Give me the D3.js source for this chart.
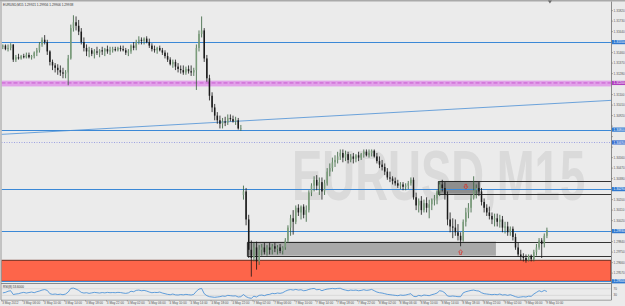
<!DOCTYPE html>
<html><head><meta charset="utf-8">
<script src="https://cdn.jsdelivr.net/npm/d3@7"></script>
<style>html,body{margin:0;padding:0;background:#ebebeb;overflow:hidden}svg{display:block}</style>
</head><body>
<script>
// ---------------- DATA ----------------
const symbol = "EURUSD,M15";
const quote = ["1.29921", "1.29956", "1.29906", "1.29938"];
const sessionStarts = ["2012-05-03T02:00", "2012-05-07T00:00"];
const sessionCounts = [92, 117];

const opens = [
1.3151,1.3152,1.3149,1.3150,1.3153,1.3140,1.3142,1.3141,1.3143,1.3142,
1.3144,1.3142,1.3143,1.3146,1.3148,1.3153,1.3157,1.3155,1.3147,1.3138,
1.3135,1.3133,1.3131,1.3129,1.3128,1.3129,1.3141,1.3167,1.3172,1.3169,
1.3164,1.3155,1.3150,1.3147,1.3148,1.3145,1.3147,1.3146,1.3148,1.3147,
1.3149,1.3147,1.3148,1.3149,1.3148,1.3150,1.3149,1.3148,1.3146,1.3147,
1.3152,1.3150,1.3155,1.3157,1.3156,1.3158,1.3155,1.3152,1.3149,1.3148,
1.3150,1.3148,1.3146,1.3143,1.3140,1.3136,1.3138,1.3134,1.3132,1.3131,
1.3129,1.3132,1.3130,1.3129,1.3131,1.3150,1.3162,1.3165,1.3141,1.3124,
1.3109,1.3099,1.3092,1.3088,1.3085,1.3087,1.3086,1.3090,1.3089,1.3087,
1.3088,1.3081,
1.3024,1.3027,1.3003,1.2977,1.2970,1.2979,1.2967,1.2977,1.2979,1.2975,
1.2979,1.2977,1.2980,1.2978,1.2979,1.2976,1.2979,1.2985,1.2996,1.3004,
1.3001,1.3013,1.3009,1.3014,1.3007,1.3011,1.3026,1.3032,1.3037,1.3032,
1.3035,1.3027,1.3034,1.3044,1.3047,1.3052,1.3054,1.3057,1.3060,1.3056,
1.3059,1.3054,1.3057,1.3055,1.3058,1.3056,1.3059,1.3061,1.3058,1.3060,
1.3062,1.3057,1.3053,1.3050,1.3048,1.3044,1.3039,1.3038,1.3036,1.3034,
1.3032,1.3033,1.3031,1.3032,1.3034,1.3037,1.3022,1.3015,1.3019,1.3011,
1.3017,1.3013,1.3016,1.3020,1.3021,1.3027,1.3033,1.3030,1.3024,1.3003,
1.2997,1.2996,1.2992,1.2989,1.2985,1.3001,1.3009,1.3013,1.3021,1.3028,
1.3030,1.3027,1.3018,1.3013,1.3009,1.3006,1.3003,1.3004,1.3001,1.3003,
1.2996,1.2997,1.2992,1.2995,1.2988,1.2979,1.2973,1.2971,1.2970,1.2968,
1.2972,1.2969,1.2975,1.2979,1.2985,1.2982,1.2989];

const highs = [
1.3153,1.3153,1.3153,1.3154,1.3153,1.3144,1.3145,1.3144,1.3145,1.3146,
1.3146,1.3144,1.3147,1.3150,1.3155,1.3159,1.3161,1.3157,1.3148,1.3140,
1.3137,1.3136,1.3135,1.3133,1.3131,1.3144,1.3170,1.3178,1.3177,1.3174,
1.3167,1.3159,1.3153,1.3151,1.3150,1.3149,1.3151,1.3149,1.3151,1.3150,
1.3152,1.3151,1.3151,1.3151,1.3151,1.3152,1.3152,1.3150,1.3149,1.3153,
1.3155,1.3157,1.3160,1.3159,1.3159,1.3160,1.3158,1.3154,1.3152,1.3151,
1.3152,1.3150,1.3148,1.3146,1.3142,1.3140,1.3140,1.3137,1.3135,1.3135,
1.3134,1.3135,1.3135,1.3133,1.3153,1.3165,1.3177,1.3167,1.3144,1.3127,
1.3112,1.3102,1.3095,1.3092,1.3090,1.3091,1.3093,1.3093,1.3092,1.3091,
1.3090,1.3084,
1.3032,1.3030,1.3007,1.2985,1.2983,1.2984,1.2981,1.2982,1.2983,1.2981,
1.2983,1.2982,1.2983,1.2981,1.2982,1.2980,1.2987,1.2998,1.3007,1.3011,
1.3015,1.3016,1.3015,1.3016,1.3015,1.3028,1.3034,1.3040,1.3041,1.3039,
1.3039,1.3037,1.3047,1.3051,1.3056,1.3058,1.3061,1.3063,1.3063,1.3062,
1.3061,1.3059,1.3060,1.3059,1.3061,1.3060,1.3063,1.3063,1.3063,1.3063,
1.3063,1.3060,1.3057,1.3054,1.3051,1.3047,1.3044,1.3040,1.3039,1.3037,
1.3035,1.3035,1.3034,1.3036,1.3039,1.3039,1.3026,1.3021,1.3023,1.3020,
1.3022,1.3020,1.3021,1.3024,1.3028,1.3036,1.3037,1.3035,1.3027,1.3009,
1.3004,1.3003,1.2999,1.2992,1.3003,1.3013,1.3017,1.3024,1.3040,1.3033,
1.3035,1.3030,1.3021,1.3016,1.3014,1.3009,1.3008,1.3008,1.3007,1.3006,
1.3001,1.3001,1.2997,1.2997,1.2991,1.2983,1.2977,1.2974,1.2973,1.2973,
1.2973,1.2977,1.2982,1.2987,1.2987,1.2991,1.2996];

const lows = [
1.3149,1.3148,1.3147,1.3148,1.3138,1.3138,1.3140,1.3140,1.3141,1.3141,
1.3141,1.3140,1.3141,1.3143,1.3146,1.3151,1.3153,1.3144,1.3135,1.3131,
1.3129,1.3127,1.3126,1.3124,1.3124,1.3118,1.3140,1.3164,1.3165,1.3161,
1.3153,1.3147,1.3143,1.3142,1.3143,1.3141,1.3144,1.3142,1.3144,1.3143,
1.3145,1.3144,1.3146,1.3147,1.3147,1.3147,1.3147,1.3144,1.3143,1.3145,
1.3148,1.3148,1.3153,1.3153,1.3153,1.3154,1.3150,1.3147,1.3146,1.3145,
1.3147,1.3144,1.3141,1.3138,1.3135,1.3133,1.3131,1.3129,1.3128,1.3127,
1.3127,1.3128,1.3126,1.3126,1.3114,1.3147,1.3159,1.3138,1.3121,1.3105,
1.3095,1.3088,1.3085,1.3081,1.3081,1.3083,1.3084,1.3087,1.3086,1.3084,
1.3080,1.3079,
1.3020,1.2998,1.2970,1.2954,1.2967,1.2960,1.2964,1.2972,1.2973,1.2972,
1.2973,1.2973,1.2975,1.2973,1.2974,1.2973,1.2977,1.2983,1.2989,1.2990,
1.2999,1.3006,1.3003,1.3004,1.3001,1.3009,1.3023,1.3027,1.3028,1.3024,
1.3020,1.3024,1.3032,1.3040,1.3044,1.3048,1.3051,1.3054,1.3052,1.3053,
1.3051,1.3052,1.3051,1.3052,1.3053,1.3054,1.3056,1.3057,1.3056,1.3057,
1.3056,1.3051,1.3047,1.3045,1.3041,1.3037,1.3035,1.3033,1.3032,1.3030,
1.3029,1.3028,1.3028,1.3029,1.3032,1.3020,1.3011,1.3009,1.3007,1.3009,
1.3009,1.3004,1.3011,1.3015,1.3016,1.3023,1.3027,1.3020,1.2998,1.2992,
1.2987,1.2989,1.2985,1.2980,1.2984,1.2997,1.3004,1.3009,1.3020,1.3021,
1.3023,1.3015,1.3009,1.3006,1.3003,1.2999,1.2997,1.2997,1.2996,1.2992,
1.2991,1.2989,1.2989,1.2985,1.2977,1.2971,1.2968,1.2967,1.2966,1.2967,
1.2967,1.2967,1.2972,1.2977,1.2970,1.2979,1.2987];

const closes = [
1.3152,1.3149,1.3150,1.3153,1.3140,1.3142,1.3141,1.3143,1.3142,1.3144,
1.3142,1.3143,1.3146,1.3148,1.3153,1.3157,1.3155,1.3147,1.3138,1.3135,
1.3133,1.3131,1.3129,1.3128,1.3129,1.3141,1.3167,1.3172,1.3169,1.3164,
1.3155,1.3150,1.3147,1.3148,1.3145,1.3147,1.3146,1.3148,1.3147,1.3149,
1.3147,1.3148,1.3149,1.3148,1.3150,1.3149,1.3148,1.3146,1.3147,1.3152,
1.3150,1.3155,1.3157,1.3156,1.3158,1.3155,1.3152,1.3149,1.3148,1.3150,
1.3148,1.3146,1.3143,1.3140,1.3136,1.3138,1.3134,1.3132,1.3131,1.3129,
1.3132,1.3130,1.3129,1.3131,1.3150,1.3162,1.3165,1.3141,1.3124,1.3109,
1.3099,1.3092,1.3088,1.3085,1.3087,1.3086,1.3090,1.3089,1.3087,1.3088,
1.3081,1.3081,
1.3027,1.3003,1.2977,1.2970,1.2979,1.2967,1.2977,1.2979,1.2975,1.2979,
1.2977,1.2980,1.2978,1.2979,1.2976,1.2979,1.2985,1.2996,1.3004,1.3001,
1.3013,1.3009,1.3014,1.3007,1.3011,1.3026,1.3032,1.3037,1.3032,1.3035,
1.3027,1.3034,1.3044,1.3047,1.3052,1.3054,1.3057,1.3060,1.3056,1.3059,
1.3054,1.3057,1.3055,1.3058,1.3056,1.3059,1.3061,1.3058,1.3060,1.3062,
1.3057,1.3053,1.3050,1.3048,1.3044,1.3039,1.3038,1.3036,1.3034,1.3032,
1.3033,1.3031,1.3032,1.3034,1.3037,1.3022,1.3015,1.3019,1.3011,1.3017,
1.3013,1.3016,1.3020,1.3021,1.3027,1.3033,1.3030,1.3024,1.3003,1.2997,
1.2996,1.2992,1.2989,1.2985,1.3001,1.3009,1.3013,1.3021,1.3028,1.3030,
1.3027,1.3018,1.3013,1.3009,1.3006,1.3003,1.3004,1.3001,1.3003,1.2996,
1.2997,1.2992,1.2995,1.2988,1.2979,1.2973,1.2971,1.2970,1.2968,1.2972,
1.2969,1.2975,1.2979,1.2985,1.2982,1.2989,1.2994];

const rsi = [
45,48,55,58, 35,38,40, 45,48,44,47,50,46, 52,56,62,65,60, 40,36,38,35,37,34,38,
50,72,74,68,60, 48,44,46,42,45,48,46,44,47,45,48,46, 47,46,48,47,44,42,45,
55,52,60,62,58,60,56,50, 46,48,47,50,44,40, 36,34,38,33,32,35,33,36,34,32,36,
55,68,72, 40,28,22,20,18,20, 22,26,24,30,28,26,27,20,22,
35,22,15,12, 25,20,30,32,28,34, 36,42,40,44,42,46, 55,62,65,62,66, 62,64,58,60,
66,70,72,64,66,58,64, 68,70,72,70,72,73,66, 62,58,62,60,62,58,60,64,60,62,66,58,
50,46,44,40, 36,34,32,30,28,32,30,32,36,40, 24,22,30,26,32,30,28,34,38,44,
58,55,45, 26,24,26,24,22,22, 45,52,56,60,62, 58,56,46,40,38,36,
34,36,34,38,32,34,30,34,28, 22,18,20,22,20,25,24, 38,48,58,52,60,53.6];
const rsiName = "RSI(8)";
const rsiLevels = [70, 30];

const priceTicks = [1.3182,1.3173,1.3164,1.3155,1.3146,1.3137,1.3128,1.3119,1.3110,1.3101,
  1.3092,1.3083,1.3074,1.3065,1.3056,1.3047,1.3038,1.3029,1.3020,1.3011,1.3002,1.2993,
  1.2984,1.2975,1.2966,1.2957];

const blueLevels = [1.3155, 1.3080, 1.3029, 1.2993, 1.2950];
const dottedLevels = [1.3069];
const magentaLevels = [1.3120];
const magentaBand = [1.3117, 1.3122];
const boxFrom = [166.5, 93.5];
const boxTo = [182.5, 188.5];
const boxTop = [1.3036, 1.2984];
const boxBottom = [1.3025, 1.2972];
const zoneTop = [1.2968];
const zoneBottom = [1.2950];
const trendIdx = [0, 208];
const trendPrice = [1.3076, 1.3102];
const arrowIdx = [177, 175];
const arrowPrice = [1.3031, 1.2975];
const arrowDir = [1, -1];   // 1 = pointing down, -1 = pointing up

// ---------------- DRAWING ----------------
const W = 625, H = 306;
const plotL = 1.5, plotR = 611, mainT = 2.5, mainB = 283;
const rsiT = 284, rsiB = 300;
const svg = d3.select("body").append("svg").attr("width", W).attr("height", H)
  .style("font-family", "'Liberation Sans', Arial, sans-serif");

svg.append("rect").attr("width", W).attr("height", H).attr("fill", "#ebebeb");
svg.append("rect").attr("x", 0).attr("y", 0).attr("width", W).attr("height", 1.5).attr("fill", "#a9a9a9");

const defs = svg.append("defs");
defs.append("clipPath").attr("id", "cm").append("rect")
  .attr("x", plotL).attr("y", mainT).attr("width", plotR - plotL).attr("height", mainB - mainT);
defs.append("clipPath").attr("id", "cr").append("rect")
  .attr("x", plotL).attr("y", rsiT).attr("width", plotR - plotL).attr("height", rsiB - rsiT);

const x = d3.scaleLinear().domain([-0.5, 232.5]).range([plotL, plotR]);
const y = d3.scaleLinear().domain([1.29494, 1.31868]).range([282, 5]);
const ry = d3.scaleLinear().domain([0, 100]).range([300.3, 283.8]);
const f5 = d3.format(".5f");

// watermark (horizontally condensed)
svg.append("text").attr("transform", "translate(292,200) scale(0.65,1)").text(symbol)
  .attr("font-size", 70).attr("font-weight", "bold").attr("fill", "#dadada");

const main = svg.append("g").attr("clip-path", "url(#cm)");

// magenta band + dashed level
main.append("rect").attr("x", plotL).attr("width", plotR - plotL)
  .attr("y", y(magentaBand[1])).attr("height", y(magentaBand[0]) - y(magentaBand[1]))
  .attr("fill", "#e2a2ea");
main.selectAll("line.mag").data(magentaLevels).join("line")
  .attr("x1", plotL).attr("x2", plotR).attr("y1", d => y(d)).attr("y2", d => y(d))
  .attr("stroke", "#c048c8").attr("stroke-width", 0.8).attr("stroke-dasharray", "4,2");

// boxes (fill part)
const boxes = boxFrom.map((f, i) => ({f, t: boxTo[i], top: boxTop[i], bot: boxBottom[i], i}));
const boxFill = ["#8e8e8e", "#a9a9a9"];
main.selectAll("rect.box").data(boxes).join("rect")
  .attr("x", d => x(d.f)).attr("width", d => x(d.t) - x(d.f))
  .attr("y", d => y(d.top)).attr("height", d => y(d.bot) - y(d.top))
  .attr("fill", d => boxFill[d.i]);

// red zone
main.selectAll("rect.zone").data(zoneTop).join("rect")
  .attr("x", plotL).attr("width", plotR - plotL)
  .attr("y", d => y(d)).attr("height", (d, i) => y(zoneBottom[i]) - y(d))
  .attr("fill", "#fd654a").attr("stroke", "#6e2a1c").attr("stroke-width", 1);

// blue levels
main.selectAll("line.blue").data(blueLevels).join("line")
  .attr("x1", plotL).attr("x2", plotR).attr("y1", d => Math.round(y(d)) + 0.5).attr("y2", d => Math.round(y(d)) + 0.5)
  .attr("stroke", "#3b88d6").attr("stroke-width", 1);
main.selectAll("line.dot").data(dottedLevels).join("line")
  .attr("x1", plotL).attr("x2", plotR).attr("y1", d => Math.round(y(d)) + 0.5).attr("y2", d => Math.round(y(d)) + 0.5)
  .attr("stroke", "#8a90e0").attr("stroke-width", 0.8).attr("stroke-dasharray", "1,1.5");

// box outlines extending to the right edge
boxes.forEach(d => {
  const yt = Math.round(y(d.top)) + 0.5, yb = Math.round(y(d.bot)) + 0.5, xl = x(d.f);
  main.append("path").attr("d", `M${plotR},${yt}H${xl}V${yb}H${plotR}`)
    .attr("fill", "none").attr("stroke", "#1e1e1e").attr("stroke-width", 0.9);
});

// trend line (extended)
const slope = (trendPrice[1] - trendPrice[0]) / (trendIdx[1] - trendIdx[0]);
const tp = i => trendPrice[0] + slope * (i - trendIdx[0]);
main.append("line").attr("x1", x(-0.5)).attr("y1", y(tp(-0.5))).attr("x2", x(232.5)).attr("y2", y(tp(232.5)))
  .attr("stroke", "#4a8fd6").attr("stroke-width", 0.8);

// candles
const candles = opens.map((o, i) => ({i, o, h: highs[i], l: lows[i], c: closes[i]}));
const cg = main.append("g");
cg.selectAll("line").data(candles).join("line")
  .attr("x1", d => x(d.i)).attr("x2", d => x(d.i))
  .attr("y1", d => y(d.h)).attr("y2", d => y(d.l))
  .attr("stroke", d => d.c >= d.o ? "#34603a" : "#151515").attr("stroke-width", 0.8);
cg.selectAll("rect").data(candles).join("rect")
  .attr("x", d => x(d.i) - 0.75).attr("width", 1.5)
  .attr("y", d => y(Math.max(d.o, d.c)))
  .attr("height", d => Math.max(0.6, Math.abs(y(d.o) - y(d.c))))
  .attr("fill", d => d.c >= d.o ? "#7a9c7a" : "#1a1a1a");

// arrow markers (outlined)
const arrowPath = (cx, cy, s) =>
  `M${cx - 0.9},${cy - 2.4 * s}H${cx + 0.9}V${cy}H${cx + 2}L${cx},${cy + 2.4 * s}L${cx - 2},${cy}H${cx - 0.9}Z`;
main.selectAll("path.arr").data(arrowIdx).join("path")
  .attr("d", (d, i) => arrowPath(x(d), y(arrowPrice[i]), arrowDir[i]))
  .attr("fill", "none").attr("stroke", "#e0231c").attr("stroke-width", 0.6);

// title
svg.append("text").attr("x", 3).attr("y", 6.2).attr("font-size", 3.2).attr("fill", "#333")
  .text(`${symbol}  ${quote.join(" ")}`);

// chart shift marker
const mx = x(candles.length - 1) + 3;
svg.append("path").attr("d", `M${mx - 2},0.5H${mx + 2}L${mx},3.5Z`).attr("fill", "#6a6a6a");

// frames
svg.append("line").attr("x1", plotR + 0.5).attr("x2", plotR + 0.5).attr("y1", 1.5).attr("y2", rsiB)
  .attr("stroke", "#8a8a8a").attr("stroke-width", 1);
svg.append("line").attr("x1", 1).attr("x2", 1).attr("y1", 1.5).attr("y2", rsiB)
  .attr("stroke", "#9a9a9a").attr("stroke-width", 1);
svg.append("line").attr("x1", 1).attr("x2", plotR).attr("y1", mainB + 0.5).attr("y2", mainB + 0.5)
  .attr("stroke", "#8a8a8a").attr("stroke-width", 1);
svg.append("line").attr("x1", 1).attr("x2", plotR + 0.5).attr("y1", rsiB + 0.2).attr("y2", rsiB + 0.2)
  .attr("stroke", "#8a8a8a").attr("stroke-width", 0.8);

// level labels on axis (drawn over tick labels)
const lab = [...blueLevels.map(v => ({v, c: "#2f78d0"})), ...dottedLevels.map(v => ({v, c: "#3a6fd0"})),
             ...magentaLevels.map(v => ({v, c: "#b23fbf"}))];
const shownTicks = priceTicks.filter(t => lab.every(l => Math.abs(y(t) - y(l.v)) > 6));
const pa = svg.append("g");
pa.selectAll("line").data(priceTicks).join("line")
  .attr("x1", plotR + 0.5).attr("x2", plotR + 2).attr("y1", d => y(d)).attr("y2", d => y(d))
  .attr("stroke", "#666").attr("stroke-width", 0.5);
pa.selectAll("text").data(shownTicks).join("text")
  .attr("x", plotR + 2.6).attr("y", d => y(d) + 1.1).attr("font-size", 3.1).attr("fill", "#555")
  .text(d => f5(d));

const lg = svg.append("g");
lg.selectAll("rect").data(lab).join("rect")
  .attr("x", plotR + 1).attr("width", 13.5).attr("y", d => y(d.v) - 2.1).attr("height", 4.2)
  .attr("fill", d => d.c);
lg.selectAll("text").data(lab).join("text")
  .attr("x", plotR + 2.6).attr("y", d => y(d.v) + 1.1).attr("font-size", 3.1).attr("fill", "#fff")
  .text(d => f5(d.v));

// RSI panel
const rg = svg.append("g").attr("clip-path", "url(#cr)");
rg.selectAll("line").data(rsiLevels).join("line")
  .attr("x1", plotL).attr("x2", plotR).attr("y1", d => ry(d)).attr("y2", d => ry(d))
  .attr("stroke", "#a8a8a8").attr("stroke-width", 0.5).attr("stroke-dasharray", "1,1");
rg.append("path").datum(rsi)
  .attr("d", d3.line().x((d, i) => x(i)).y(d => ry(d)))
  .attr("fill", "none").attr("stroke", "#3d8ad6").attr("stroke-width", 0.8);
svg.append("text").attr("x", 3).attr("y", 287.8).attr("font-size", 3.1).attr("fill", "#333")
  .text(`${rsiName} ${rsi[rsi.length - 1].toFixed(4)}`);
svg.selectAll("text.rl").data(rsiLevels).join("text")
  .attr("x", plotR + 2.6).attr("y", d => ry(d) + 1.1).attr("font-size", 3.1).attr("fill", "#555")
  .text(d => d);

// time axis
const parseT = d3.utcParse("%Y-%m-%dT%H:%M");
const times = [];
sessionStarts.forEach((s, k) => {
  const t0 = parseT(s);
  for (let n = 0; n < sessionCounts[k]; n++) times.push(d3.utcMinute.offset(t0, 30 * n));
});
const fFirst = d3.utcFormat("%-d %b %Y"), fOther = d3.utcFormat("%-d %b %H:%M");
const tIdx = times.map((t, i) => i).filter(i => times[i].getUTCHours() % 4 === 2 && times[i].getUTCMinutes() === 0);
const ta = svg.append("g");
ta.selectAll("line").data(tIdx).join("line")
  .attr("x1", d => x(d) - 1).attr("x2", d => x(d) - 1).attr("y1", rsiB).attr("y2", rsiB + 1.6)
  .attr("stroke", "#777").attr("stroke-width", 0.5);
ta.selectAll("text").data(tIdx).join("text")
  .attr("x", d => x(d) - 0.6).attr("y", 304.4).attr("font-size", 3.1).attr("fill", "#555")
  .text(d => d === 0 ? fFirst(times[d]) : fOther(times[d]));
</script>
</body></html>
